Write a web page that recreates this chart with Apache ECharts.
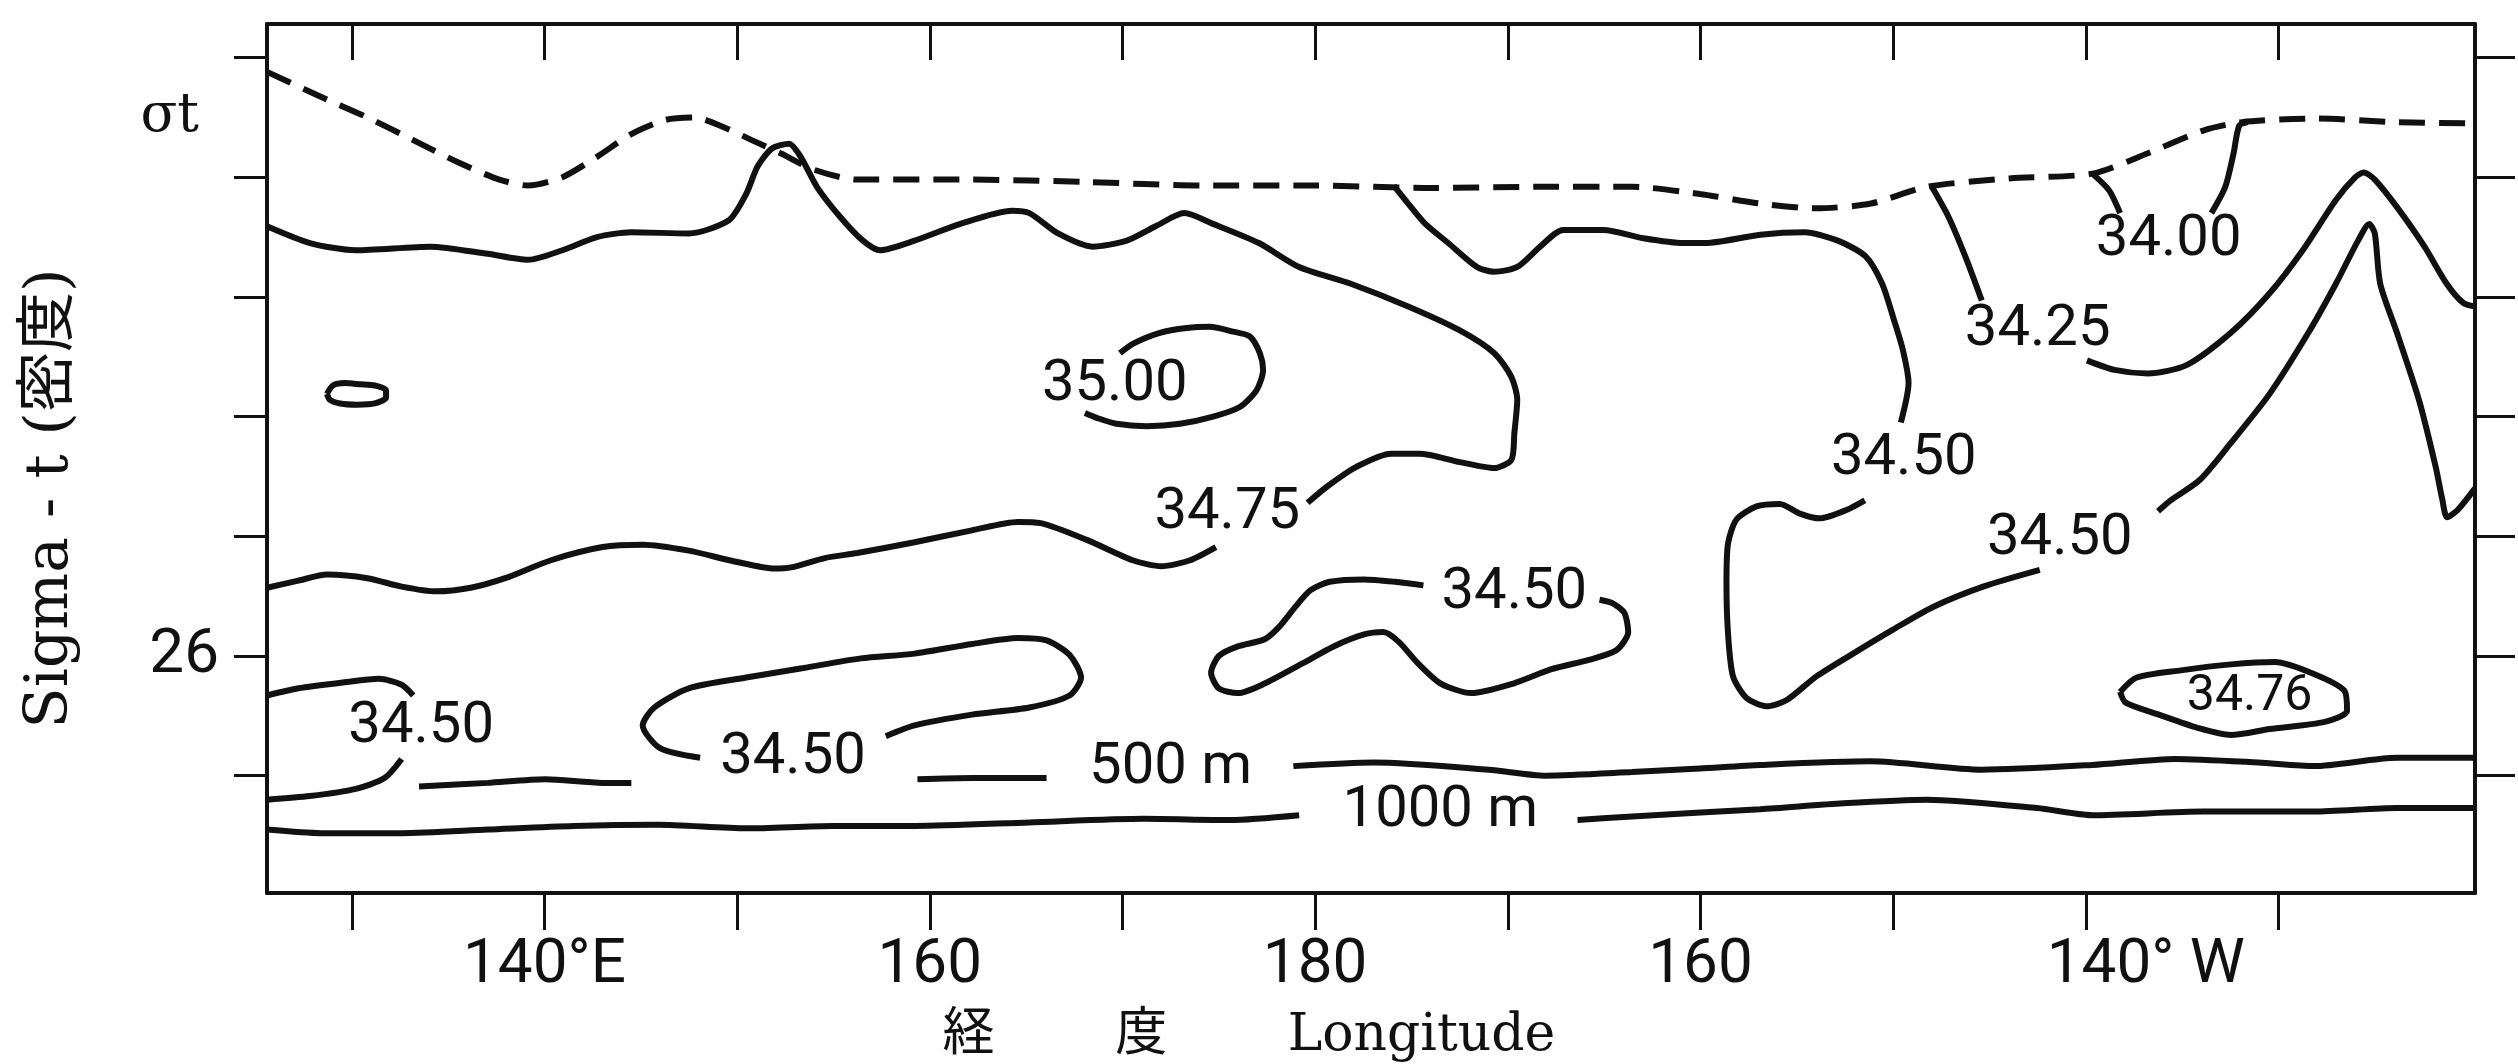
<!DOCTYPE html>
<html>
<head>
<meta charset="utf-8">
<script src="https://cdn.jsdelivr.net/npm/echarts@6/dist/echarts.min.js"></script>
<style>
html,body{margin:0;padding:0;background:#fff}
#chart{width:2518px;height:1064px}
</style>
</head>
<body>
<div id="chart"></div>
<script>
// axis ticks (longitude 0-360 east, sigma-t)
var xTicks = [130, 140, 150, 160, 170, 180, 190, 200, 210, 220, 230];
var xLabelValues = [140, 160, 180, 200, 220];
var xLabelText = {140: '140°E', 160: '160', 180: '180', 200: '160', 220: '{w|140° W}'};
var yTicks = [21, 22, 23, 24, 25, 26, 27];
var yLabelValues = [21.5, 26];

// surface sigma-t (dashed)
var sigmaSurface = [[125.6,21.12],[128.42,21.33],[130.81,21.5],[133.19,21.69],[135.57,21.88],[137.66,22.02],[139.15,22.07],[140.93,22.0],[142.72,21.83],[144.51,21.64],[146.3,21.52],[147.79,21.5],[149.28,21.58],[150.76,21.69],[152.25,21.8],[154.04,21.94],[156.23,22.02],[162.19,22.02],[168.15,22.04],[174.1,22.07],[180.06,22.07],[186.02,22.09],[191.98,22.08],[196.45,22.08],[199.96,22.14],[203.11,22.22],[205.98,22.26],[208.85,22.22],[211.73,22.08],[216.03,22.01],[220.34,21.97],[223.22,21.8],[226.09,21.61],[228.1,21.54],[231.84,21.51],[236.15,21.54],[240.2,21.55]];

// salinity 34.75
var sal3475a = [[125.6,22.41],[127.83,22.55],[130.21,22.61],[134.08,22.58],[137.06,22.64],[139.15,22.69],[140.93,22.61],[142.72,22.5],[144.51,22.46],[147.49,22.47],[149.57,22.36],[150.47,22.14],[151.06,21.91],[151.81,21.76],[152.7,21.72],[153.3,21.83],[154.14,22.08],[155.34,22.33],[156.53,22.53],[157.42,22.61],[159.21,22.53],[161.59,22.39],[164.27,22.28],[165.17,22.3],[166.66,22.47],[168.44,22.58],[170.23,22.53],[171.72,22.41],[173.21,22.3],[174.7,22.39],[177.08,22.55],[179.17,22.75],[181.85,22.89],[184.83,23.08],[187.51,23.28],[189.3,23.47],[190.19,23.67],[190.49,23.86],[190.34,24.14],[190.19,24.36],[189.3,24.43],[187.51,24.38],[185.42,24.31],[183.93,24.31],[182.14,24.42],[180.66,24.58],[179.61,24.72]];
var sal3475b = [[174.85,25.09],[173.51,25.2],[172.02,25.25],[170.53,25.2],[168.15,25.03],[165.76,24.89],[164.57,24.88],[162.19,24.95],[159.21,25.05],[156.23,25.14],[154.6,25.18],[152.8,25.26],[151.96,25.27],[149.87,25.21],[147.49,25.12],[145.1,25.07],[143.02,25.09],[140.34,25.2],[137.96,25.35],[136.17,25.43],[134.38,25.46],[132.59,25.42],[130.81,25.35],[128.72,25.32],[127.23,25.37],[125.6,25.43]];

// salinity 35.00 and the small eddy
var sal3500 = [[169.87,23.47],[170.56,23.39],[171.94,23.3],[173.33,23.26],[174.54,23.25],[175.75,23.29],[176.61,23.33],[177.13,23.47],[177.3,23.61],[176.96,23.78],[176.09,23.92],[174.71,24.0],[172.98,24.06],[171.25,24.08],[169.69,24.06],[168.66,24.01],[168.05,23.97]];
var salEddy = [[128.71,23.81],[129.02,23.74],[129.65,23.72],[130.43,23.73],[131.2,23.74],[131.78,23.78],[131.78,23.84],[131.2,23.89],[130.27,23.9],[129.39,23.89],[128.87,23.86],[128.71,23.81]];

// salinity 34.50, east side
var sal3450ra = [[184.08,22.07],[184.83,22.22],[185.72,22.39],[186.91,22.55],[188.4,22.75],[189.3,22.79],[190.49,22.75],[191.68,22.58],[192.87,22.44],[194.96,22.44],[197.04,22.51],[199.13,22.55],[200.23,22.55],[203.11,22.48],[205.4,22.46],[207.13,22.53],[208.56,22.66],[209.43,22.89],[210.0,23.17],[210.5,23.44],[210.8,23.72],[210.4,24.05]];
var sal3450rb = [[208.53,24.7],[207.58,24.78],[206.19,24.85],[205.16,24.81],[204.12,24.73],[202.91,24.75],[201.87,24.86],[201.43,25.06],[201.35,25.39],[201.43,25.81],[201.69,26.17],[202.39,26.35],[203.42,26.42],[204.46,26.37],[206.02,26.17],[207.92,25.98],[209.99,25.78],[212.07,25.59],[214.67,25.42],[217.61,25.28]];
var sal3450rc = [[223.75,24.79],[224.4,24.7],[225.91,24.53],[227.53,24.22],[229.54,23.81],[231.55,23.3],[232.98,22.89],[234.13,22.53],[234.71,22.39],[235.0,22.47],[235.28,22.89],[236.15,23.3],[237.29,23.86],[238.16,24.42],[238.5,24.69],[238.75,24.84],[239.3,24.78],[240.2,24.6]];

// salinity 34.25 and 34.00
var sal3425a = [[212.01,22.08],[212.87,22.33],[213.74,22.66],[214.6,23.03]];
var sal3425b = [[220.06,23.53],[221.49,23.61],[223.22,23.64],[225.23,23.57],[227.53,23.3],[229.54,22.97],[231.26,22.61],[232.98,22.19],[233.99,22.0],[234.42,21.96],[235.0,22.02],[236.15,22.25],[237.58,22.58],[238.73,22.89],[239.59,23.05],[240.2,23.08]];
var sal3400a = [[220.34,21.97],[221.21,22.11],[221.78,22.3]];
var sal3400b = [[226.52,22.3],[227.24,22.08],[227.67,21.8],[227.96,21.57],[228.39,21.54]];

// salinity 34.50, west and central
var sal3450swA = [[125.6,26.33],[127.23,26.27],[129.61,26.22],[131.4,26.19],[132.59,26.24],[133.19,26.33]];
var sal3450swB = [[132.59,26.86],[131.7,27.02],[130.21,27.11],[127.83,27.17],[125.6,27.2]];
var sal3450w = [[148.08,26.85],[146.0,26.77],[145.1,26.58],[145.7,26.43],[147.49,26.27],[150.47,26.18],[153.45,26.1],[156.42,26.02],[159.21,25.98],[162.19,25.9],[164.57,25.85],[166.06,25.87],[167.25,25.99],[167.85,26.18],[167.25,26.33],[165.17,26.43],[162.19,26.49],[159.21,26.58],[157.72,26.67]];
var sal3450c = [[185.62,25.41],[184.14,25.38],[182.54,25.36],[180.76,25.38],[179.76,25.45],[178.97,25.59],[178.17,25.75],[177.38,25.86],[175.99,25.92],[175.0,26.0],[174.6,26.14],[175.0,26.27],[175.99,26.31],[177.38,26.23],[179.37,26.06],[180.96,25.92],[182.54,25.82],[183.54,25.8],[184.33,25.88],[185.33,26.06],[186.52,26.23],[188.11,26.31],[190.29,26.23],[192.27,26.11],[194.26,26.03],[195.65,25.95],[196.25,25.8],[196.05,25.64],[195.45,25.56],[194.76,25.53]];
var sal3476 = [[221.78,26.3],[222.64,26.18],[224.94,26.12],[227.53,26.07],[229.82,26.05],[231.84,26.15],[233.42,26.29],[233.56,26.46],[232.41,26.55],[229.54,26.61],[227.53,26.66],[225.8,26.6],[223.79,26.49],[222.07,26.39],[221.78,26.3]];

// depth lines
var d500a = [[133.49,27.09],[137.06,27.06],[140.04,27.03],[143.02,27.06],[144.51,27.06]];
var d500b = [[159.36,27.03],[162.19,27.02],[166.06,27.02]];
var d500c = [[178.87,26.92],[183.04,26.89],[189.0,26.95],[191.98,27.0],[196.45,26.97],[199.96,26.94],[203.11,26.91],[208.85,26.88],[214.6,26.95],[220.34,26.91],[224.65,26.86],[228.96,26.89],[231.84,26.92],[236.15,26.85],[240.2,26.85]];
var d1000a = [[125.6,27.45],[128.42,27.48],[132.59,27.48],[137.06,27.45],[141.53,27.42],[145.9,27.41],[150.47,27.44],[154.94,27.42],[159.21,27.42],[165.17,27.39],[171.12,27.36],[175.59,27.37],[179.17,27.33]];
var d1000b = [[193.62,27.37],[196.45,27.34],[203.11,27.28],[207.42,27.23],[211.73,27.2],[217.47,27.27],[220.34,27.33],[226.09,27.3],[231.84,27.3],[236.15,27.27],[240.2,27.27]];

// contour labels [lon, sigma, text]
var contourLabels = [
  [169.6, 23.74, '35.00'],
  [175.44, 24.81, '34.75'],
  [190.34, 25.48, '34.50'],
  [210.55, 24.36, '34.50'],
  [218.65, 25.03, '34.50'],
  [217.5, 23.28, '34.25'],
  [224.3, 22.53, '34.00'],
  [133.6, 26.60, '34.50'],
  [152.9, 26.86, '34.50'],
  [172.5, 26.94, '500 m'],
  [186.5, 27.30, '1000 m']
];
var smallLabels = [[228.5, 26.35, '34.76']];

var ink = '#111111';
var myChart = echarts.init(document.getElementById('chart'));

var solidLines = [sal3475a, sal3475b, sal3500, salEddy, sal3450ra, sal3450rb, sal3450rc,
  sal3425a, sal3425b, sal3400a, sal3400b, sal3450swA, sal3450swB, sal3450w, sal3450c,
  sal3476, d500a, d500b, d500c, d1000a, d1000b];

var series = solidLines.map(function (d) {
    return {
        type: 'line',
        data: d,
        smooth: 0.25,
        symbol: 'none',
        silent: true,
        lineStyle: {color: ink, width: 6}
    };
});
series.push({
    type: 'line',
    data: sigmaSurface,
    smooth: 0.25,
    symbol: 'none',
    silent: true,
    lineStyle: {color: ink, width: 6, type: [26, 14]}
});
// text placed through the axes' coordinate system
function labelSeries(data, size) {
    return {
        type: 'custom',
        data: data,
        silent: true,
        z: 5,
        renderItem: function (params, api) {
            var pt = api.coord([api.value(0), api.value(1)]);
            return {
                type: 'text',
                x: pt[0],
                y: pt[1],
                style: {
                    text: data[params.dataIndex][2],
                    fill: ink,
                    font: size + 'px Roboto',
                    align: 'center',
                    verticalAlign: 'middle'
                }
            };
        }
    };
}
series.push(labelSeries(contourLabels, 58));
series.push(labelSeries(smallLabels, 50));

var axisLine = {show: true, onZero: false, lineStyle: {color: ink, width: 4}};
var tickStyle = {color: ink, width: 3};

option = {
    backgroundColor: '#fff',
    animation: false,
    grid: {left: 267, right: 43, top: 24, bottom: 171, containLabel: false, outerBoundsMode: 'none'},
    xAxis: [{
        type: 'value',
        position: 'bottom',
        min: 125.6,
        max: 240.2,
        axisLine: axisLine,
        axisTick: {show: true, inside: false, length: 37, lineStyle: tickStyle, customValues: xTicks},
        axisLabel: {
            customValues: xLabelValues,
            formatter: function (v) { return xLabelText[v]; },
            margin: 42,
            fontFamily: 'Roboto',
            fontSize: 62,
            color: ink,
            rich: {w: {fontFamily: 'Roboto', fontSize: 62, color: ink, padding: [0, 0, 0, 120]}}
        },
        splitLine: {show: false},
        name: '経　　 度　　 Longitude',
        nameLocation: 'middle',
        nameGap: 117,
        nameMoveOverlap: false,
        nameTextStyle: {
            fontFamily: 'DejaVu Serif, Noto Sans CJK JP',
            fontSize: 52,
            color: ink,
            padding: [0, 244, 0, 0]
        }
    }, {
        type: 'value',
        position: 'top',
        min: 125.6,
        max: 240.2,
        axisLine: axisLine,
        axisTick: {show: true, inside: true, length: 36, lineStyle: tickStyle, customValues: xTicks},
        axisLabel: {show: false},
        splitLine: {show: false}
    }],
    yAxis: [{
        type: 'value',
        position: 'left',
        inverse: true,
        min: 20.72,
        max: 27.98,
        axisLine: axisLine,
        axisTick: {show: true, inside: false, length: 33, lineStyle: tickStyle, customValues: yTicks},
        axisLabel: {
            customValues: yLabelValues,
            formatter: function (v) { return v === 26 ? '26' : '{s|σt}'; },
            margin: 48,
            fontFamily: 'Roboto',
            fontSize: 62,
            color: ink,
            rich: {s: {fontFamily: 'DejaVu Serif', fontSize: 54, color: ink, padding: [0, 20, 0, 0]}}
        },
        splitLine: {show: false},
        name: 'Sigma - t (密度)',
        nameLocation: 'middle',
        nameRotate: 90,
        nameGap: 186,
        nameMoveOverlap: false,
        nameTextStyle: {
            fontFamily: 'DejaVu Serif, Noto Sans CJK JP',
            fontSize: 60,
            color: ink,
            padding: [0, 80, 0, 0]
        }
    }, {
        type: 'value',
        position: 'right',
        inverse: true,
        min: 20.72,
        max: 27.98,
        axisLine: axisLine,
        axisTick: {show: true, inside: false, length: 40, lineStyle: tickStyle, customValues: yTicks},
        axisLabel: {show: false},
        splitLine: {show: false}
    }],
    series: series
};
myChart.setOption(option);
</script>
</body>
</html>
